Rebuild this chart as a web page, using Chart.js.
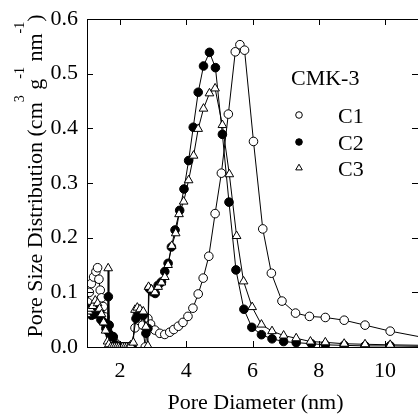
<!DOCTYPE html>
<html>
<head>
<meta charset="utf-8">
<script src="https://cdn.jsdelivr.net/npm/chart.js@4.4.0/dist/chart.umd.min.js"></script>
<style>
    html, body { margin: 0; padding: 0; background: #fff; }
    #wrap { width: 418px; height: 418px; position: relative; }
</style>
</head>
<body>
<div id="wrap"><canvas id="psdChart"></canvas></div>
<script>
// Данные (pore diameter, nm / PSD value)
const c1X = [1.02, 1.07, 1.13, 1.20, 1.27, 1.32, 1.36, 1.40, 1.44, 1.49, 1.54, 1.62, 1.70, 1.79, 1.88, 1.98, 2.10, 2.22, 2.34, 2.45, 2.52, 2.60, 2.68, 2.76, 2.84, 2.92, 3.05, 3.20, 3.35, 3.50, 3.62, 3.76, 3.90, 4.05, 4.20, 4.36, 4.51, 4.68, 4.87, 5.06, 5.27, 5.48, 5.62, 5.76, 6.03, 6.31, 6.57, 6.89, 7.30, 7.72, 8.20, 8.77, 9.40, 10.16, 11.2];
const c1Y = [0.082, 0.100, 0.116, 0.128, 0.138, 0.145, 0.124, 0.104, 0.090, 0.074, 0.055, 0.037, 0.022, 0.018, 0.006, 0.001, 0.000, 0.000, 0.002, 0.035, 0.058, 0.062, 0.040, 0.000, 0.052, 0.042, 0.031, 0.025, 0.023, 0.027, 0.032, 0.038, 0.045, 0.056, 0.071, 0.097, 0.126, 0.166, 0.244, 0.318, 0.426, 0.540, 0.553, 0.543, 0.376, 0.216, 0.135, 0.084, 0.062, 0.056, 0.054, 0.049, 0.040, 0.029, 0.017];

const c2X = [1.00, 1.07, 1.14, 1.22, 1.30, 1.36, 1.42, 1.49, 1.57, 1.62, 1.645, 1.67, 1.72, 1.79, 1.86, 1.95, 2.05, 2.15, 2.25, 2.36, 2.48, 2.55, 2.62, 2.70, 2.78, 2.84, 2.88, 2.97, 3.06, 3.15, 3.25, 3.35, 3.45, 3.55, 3.66, 3.80, 3.93, 4.07, 4.21, 4.36, 4.52, 4.70, 4.88, 5.09, 5.29, 5.50, 5.74, 5.98, 6.27, 6.59, 6.94, 7.32, 7.78, 8.20, 8.77, 9.40, 10.16, 11.2];
const c2Y = [0.071, 0.065, 0.058, 0.060, 0.070, 0.060, 0.050, 0.046, 0.034, 0.030, 0.092, 0.040, 0.020, 0.019, 0.004, 0.000, 0.000, 0.000, 0.000, 0.002, 0.052, 0.062, 0.065, 0.058, 0.025, 0.034, 0.107, 0.101, 0.098, 0.113, 0.119, 0.138, 0.153, 0.183, 0.214, 0.250, 0.289, 0.341, 0.402, 0.466, 0.514, 0.539, 0.511, 0.389, 0.265, 0.141, 0.069, 0.036, 0.0225, 0.015, 0.010, 0.008, 0.006, 0.004, 0.003, 0.002, 0.002, 0.001];

const c3X = [1.00, 1.05, 1.10, 1.17, 1.25, 1.32, 1.38, 1.44, 1.50, 1.56, 1.62, 1.64, 1.66, 1.72, 1.78, 1.84, 1.90, 1.96, 2.02, 2.08, 2.14, 2.20, 2.26, 2.32, 2.40, 2.45, 2.52, 2.60, 2.70, 2.78, 2.84, 2.86, 2.95, 3.05, 3.15, 3.25, 3.35, 3.45, 3.56, 3.68, 3.78, 3.92, 4.07, 4.22, 4.36, 4.52, 4.70, 4.87, 5.09, 5.30, 5.52, 5.73, 5.99, 6.27, 6.59, 6.94, 7.32, 7.75, 8.20, 8.77, 9.40, 10.16, 11.2];
const c3Y = [0.060, 0.065, 0.070, 0.075, 0.085, 0.080, 0.070, 0.060, 0.045, 0.030, 0.010, 0.144, 0.005, 0.000, 0.000, 0.000, 0.000, 0.000, 0.000, 0.000, 0.000, 0.000, 0.000, 0.003, 0.008, 0.068, 0.072, 0.069, 0.065, 0.037, 0.002, 0.110, 0.105, 0.100, 0.110, 0.118, 0.128, 0.150, 0.185, 0.208, 0.243, 0.266, 0.305, 0.350, 0.399, 0.436, 0.464, 0.473, 0.406, 0.316, 0.203, 0.120, 0.073, 0.041, 0.029, 0.021, 0.016, 0.010, 0.0085, 0.006, 0.005, 0.004, 0.003];

const seriesNames = ['C1', 'C2', 'C3'];
const xTicks = [2, 4, 6, 8, 10];
const yTicks = [0.0, 0.1, 0.2, 0.3, 0.4, 0.5, 0.6];

const FONT = "'Liberation Serif', 'Times New Roman', serif";

function toPoints(xs, ys) {
    return xs.map((x, i) => ({ x: x, y: ys[i] }));
}

// Стили маркеров
const markerStyles = [
    { pointStyle: 'circle', bg: '#fff', r: 4.3 },
    { pointStyle: 'circle', bg: '#000', r: 4.3 },
    { pointStyle: 'triangle', bg: '#fff', r: 5 }
];

const allData = [[c1X, c1Y], [c2X, c2Y], [c3X, c3Y]];

const datasets = allData.map((d, i) => ({
    label: seriesNames[i],
    data: toPoints(d[0], d[1]),
    borderColor: '#000',
    borderWidth: 1,
    backgroundColor: markerStyles[i].bg,
    pointStyle: markerStyles[i].pointStyle,
    pointRadius: markerStyles[i].r,
    pointBackgroundColor: markerStyles[i].bg,
    pointBorderColor: '#000',
    pointBorderWidth: 1,
    tension: 0,
    order: 3 - i
}));

// Рамка, внутренние риски, подписи осей и легенда
const framePlugin = {
    id: 'frame',
    afterDraw(chart) {
        const ctx = chart.ctx;
        const a = chart.chartArea;
        const xs = chart.scales.x;
        const ys = chart.scales.y;
        ctx.save();
        ctx.strokeStyle = '#000';
        ctx.lineWidth = 1;
        ctx.strokeRect(a.left + 0.5, a.top + 0.5, a.right - a.left, a.bottom - a.top);

        const tl = 6;
        ctx.beginPath();
        xTicks.forEach(v => {
            const px = Math.round(xs.getPixelForValue(v)) + 0.5;
            ctx.moveTo(px, a.bottom); ctx.lineTo(px, a.bottom - tl);
            ctx.moveTo(px, a.top); ctx.lineTo(px, a.top + tl);
        });
        yTicks.forEach(v => {
            const py = Math.round(ys.getPixelForValue(v)) + 0.5;
            ctx.moveTo(a.left, py); ctx.lineTo(a.left + tl, py);
            ctx.moveTo(a.right, py); ctx.lineTo(a.right - tl, py);
        });
        ctx.stroke();

        ctx.fillStyle = '#000';

        // Подпись оси X
        ctx.font = '22px ' + FONT;
        ctx.textAlign = 'center';
        ctx.textBaseline = 'alphabetic';
        ctx.fillText('Pore Diameter (nm)', (a.left + a.right) / 2 + 3, 409);

        // Подпись оси Y (с надстрочными индексами)
        const parts = [
            ['Pore Size Distribution (cm', false],
            ['3', true],
            [' g', false],
            ['-1', true],
            [' nm', false],
            ['-1', true],
            [')', false]
        ];
        const mainFont = '22px ' + FONT;
        const supFont = '14px ' + FONT;
        let total = 0;
        parts.forEach(p => {
            ctx.font = p[1] ? supFont : mainFont;
            total += ctx.measureText(p[0]).width;
        });
        ctx.translate(42, 176);
        ctx.rotate(-Math.PI / 2);
        ctx.textAlign = 'left';
        let cx = -total / 2;
        parts.forEach(p => {
            ctx.font = p[1] ? supFont : mainFont;
            ctx.fillText(p[0], cx, p[1] ? -18 : 0);
            cx += ctx.measureText(p[0]).width;
        });
        ctx.setTransform(1, 0, 0, 1, 0, 0);

        // Легенда
        ctx.font = '22px ' + FONT;
        ctx.textAlign = 'left';
        ctx.fillText('CMK-3', 291, 85);
        const legY = [115, 142, 168];
        seriesNames.forEach((name, i) => {
            ctx.fillText(name, 338, legY[i] + 8);
            ctx.fillStyle = markerStyles[i].bg;
            ctx.strokeStyle = '#000';
            Chart.helpers.drawPoint(ctx, {
                pointStyle: markerStyles[i].pointStyle,
                radius: i === 2 ? 3.8 : 3.3,
                rotation: 0,
                borderWidth: 1
            }, 299, legY[i]);
            ctx.fillStyle = '#000';
        });
        ctx.restore();
    }
};

new Chart(document.getElementById('psdChart'), {
    type: 'line',
    data: { datasets: datasets },
    options: {
        responsive: true,
        maintainAspectRatio: false,
        animation: false,
        layout: { autoPadding: false, padding: { top: 19, right: 0, left: 0, bottom: 0 } },
        plugins: {
            legend: { display: false },
            tooltip: { enabled: false }
        },
        scales: {
            x: {
                type: 'linear',
                min: 1,
                max: 11,
                afterBuildTicks: s => { s.ticks = xTicks.map(v => ({ value: v })); },
                afterFit: s => { s.height = 71; s.paddingRight = 0; s.paddingLeft = 0; },
                grid: { display: false, drawTicks: false },
                border: { display: false },
                ticks: {
                    color: '#000',
                    padding: 11,
                    maxRotation: 0,
                    font: { family: FONT, size: 22 }
                }
            },
            y: {
                type: 'linear',
                min: 0,
                max: 0.6,
                afterBuildTicks: s => { s.ticks = yTicks.map(v => ({ value: v })); },
                afterFit: s => { s.width = 87; s.paddingTop = 0; s.paddingBottom = 0; },
                grid: { display: false, drawTicks: false },
                border: { display: false },
                ticks: {
                    color: '#000',
                    padding: 9,
                    font: { family: FONT, size: 22 },
                    callback: v => Number(v).toFixed(1)
                }
            }
        }
    },
    plugins: [framePlugin]
});
</script>
</body>
</html>
